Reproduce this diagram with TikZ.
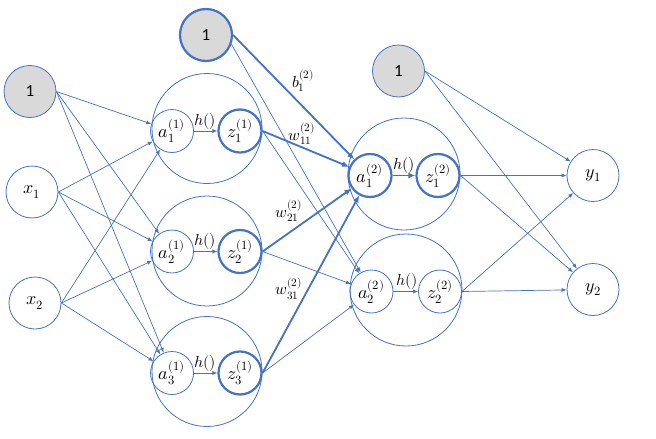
\documentclass[tikz,border=0pt]{standalone}
\usepackage{fontspec}
\usepackage{unicode-math}
\setmathfont{Latin Modern Math}
\newfontfamily\onefont{Carlito}
\usetikzlibrary{arrows.meta}
\definecolor{nnblue}{HTML}{4472C4}
\definecolor{nngray}{HTML}{D9D9D9}
\begin{document}
\begin{tikzpicture}[x=1pt,y=-1pt,
 neuron/.style={circle,draw=nnblue,line width=0.8pt,inner sep=0pt,minimum size=43pt,font=\fontsize{18}{21}\selectfont},
 boldn/.style={line width=2.2pt},
 outer/.style={circle,draw=nnblue,line width=0.8pt,inner sep=0pt},
 bias/.style={circle,draw=nnblue,fill=nngray,line width=0.8pt,minimum size=52pt,inner sep=0pt,font=\onefont\fontsize{17}{20}\selectfont},
 inp/.style={circle,draw=nnblue,line width=0.8pt,minimum size=52pt,inner sep=0pt,font=\fontsize{18}{21}\selectfont},
 conn/.style={draw=nnblue,line width=0.7pt,-{Latex[length=5pt,width=4pt]}},
 thickconn/.style={draw=nnblue,line width=1.8pt,-{Latex[length=7pt,width=6pt]}},
 wlab/.style={font=\fontsize{16}{19}\selectfont,inner sep=1pt}
]
\useasboundingbox (0,0) rectangle (656,439);
% outer circles
\node[outer,minimum size=110pt] (L1a) at (207,128.5) {};
\node[outer,minimum size=110pt] (L1b) at (207,251) {};
\node[outer,minimum size=110pt] (L1c) at (207,371.5) {};
\node[outer,minimum size=112pt] (L2a) at (404,174) {};
\node[outer,minimum size=112pt] (L2b) at (406,290) {};
% inputs and biases
\node[bias] (b1) at (30,91.5) {1};
\node[inp] (x1) at (32,192) {$x_1$};
\node[inp] (x2) at (35,303) {$x_2$};
\node[bias,boldn] (btop) at (206,35) {1};
\node[bias] (b3) at (398.5,71) {1};
% layer 1
\node[neuron] (a11) at (172,131) {$a_1^{(1)}$};
\node[neuron,boldn] (z11) at (240,131) {$z_1^{(1)}$};
\node[neuron] (a12) at (172,251.5) {$a_2^{(1)}$};
\node[neuron,boldn] (z12) at (240,251.5) {$z_2^{(1)}$};
\node[neuron] (a13) at (172,373) {$a_3^{(1)}$};
\node[neuron,boldn] (z13) at (240,373) {$z_3^{(1)}$};
% layer 2
\node[neuron,boldn] (a21) at (370,175.5) {$a_1^{(2)}$};
\node[neuron,boldn] (z21) at (438,175.5) {$z_1^{(2)}$};
\node[neuron] (a22) at (371.5,291.5) {$a_2^{(2)}$};
\node[neuron] (z22) at (440,291.5) {$z_2^{(2)}$};
% outputs
\node[inp] (y1) at (593,175.5) {$y_1$};
\node[inp] (y2) at (593,289.5) {$y_2$};
% input edges
\foreach \s in {b1,x1,x2}{
  \foreach \t in {a11,a12,a13}{
    \draw[conn] (\s.east) -- (\t);
  }
}
% activation arrows
\draw[conn] (a11) -- (z11);
\draw[conn] (a12) -- (z12);
\draw[conn] (a13) -- (z13);
\draw[thickconn] (a21) -- (z21);
\draw[conn] (a22) -- (z22);
\node[wlab] (h11) at (205,121) {$h()$};
\node[wlab] (h12) at (205,241) {$h()$};
\node[wlab] (h13) at (205,363) {$h()$};
\node[wlab] (h21) at (404,165) {$h()$};
\node[wlab] (h22) at (407,281) {$h()$};
% layer 1 -> layer 2
\draw[thickconn] (btop.east) -- (a21);
\draw[thickconn] (z11.east) -- (a21);
\draw[thickconn] (z12.east) -- (a21);
\draw[thickconn] (z13.east) -- (a21);
\draw[conn] (btop.-20) -- (a22);
\draw[conn] (z11.east) -- (a22);
\draw[conn] (z12.east) -- (a22);
\draw[conn] (z13.east) -- (a22);
\node[wlab] (lb) at (303,81) {$b_1^{(2)}$};
\node[wlab] (lw11) at (302,134) {$w_{11}^{(2)}$};
\node[wlab] (lw21) at (289,211) {$w_{21}^{(2)}$};
\node[wlab] (lw31) at (289,289) {$w_{31}^{(2)}$};
% layer 2 -> outputs
\foreach \s in {b3,z21,z22}{
  \foreach \t in {y1,y2}{
    \draw[conn] (\s.east) -- (\t);
  }
}
\end{tikzpicture}
\end{document}
